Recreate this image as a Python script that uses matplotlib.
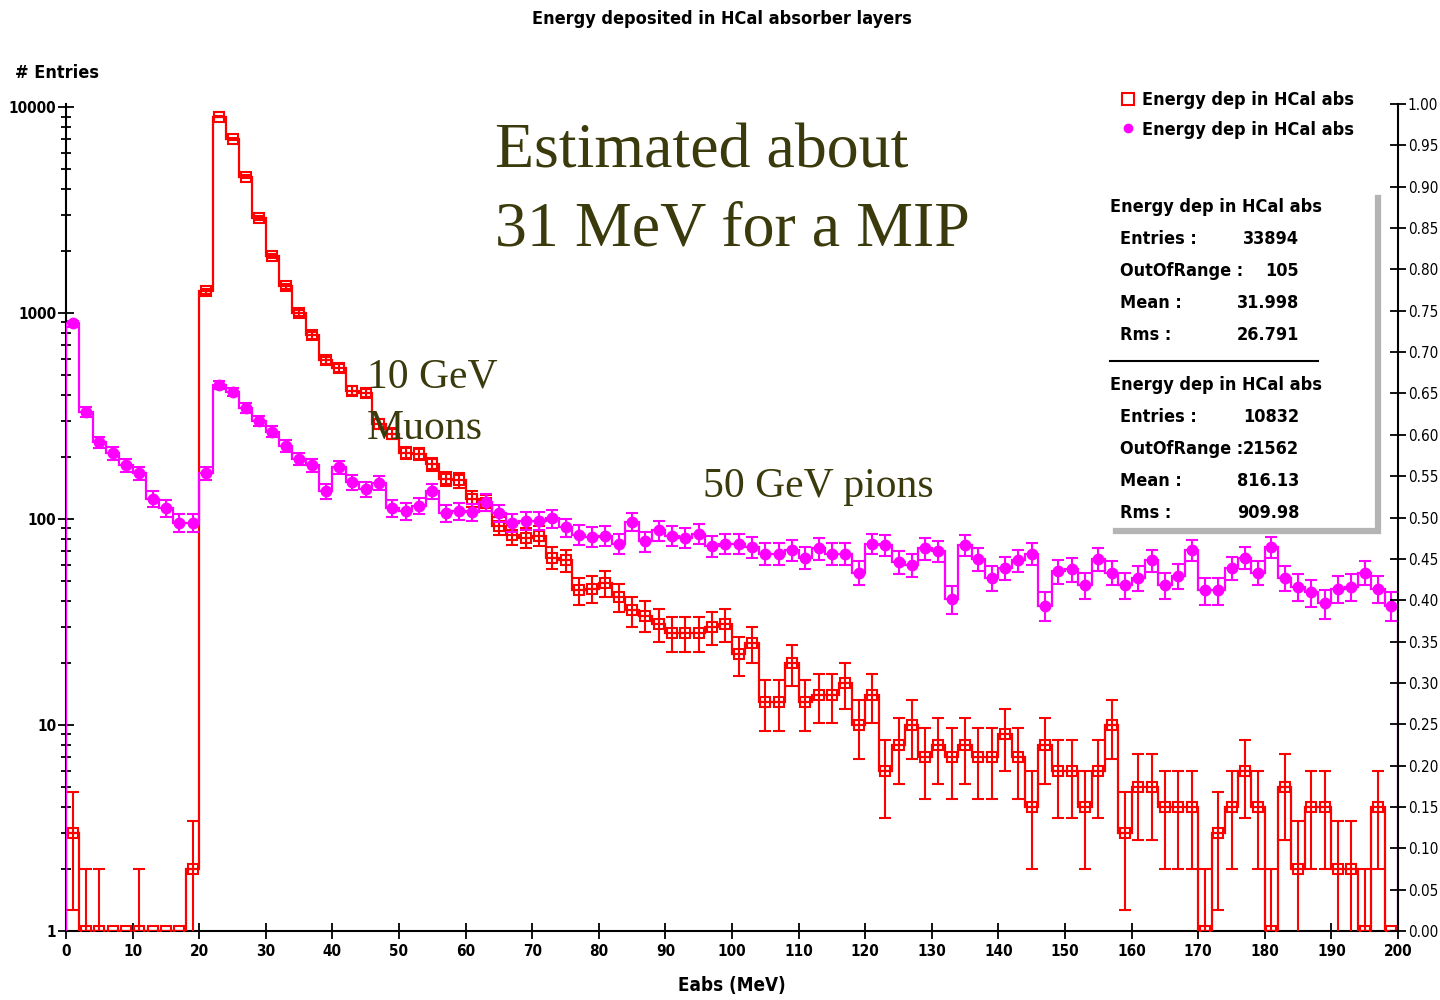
import numpy as np
import matplotlib.pyplot as plt
from matplotlib.lines import Line2D
from matplotlib.ticker import FixedLocator, NullFormatter, FuncFormatter

plt.rcParams['font.family'] = ['Liberation Sans Narrow', 'DejaVu Sans']
plt.rcParams['font.stretch'] = 'condensed'
plt.rcParams['font.weight'] = 'bold'

# 2 MeV bins from 0 to 200 MeV
edges = np.arange(0, 202, 2)
centers = edges[:-1] + 1

# 10 GeV muons
muon_counts = np.array([
    3, 1, 1, 0, 0, 1, 0, 0, 0, 2,
    1280, 9000, 7000, 4600, 2900, 1900, 1350, 1000, 780, 590,
    540, 420, 410, 290, 260, 210, 208, 185, 157, 154,
    125, 120, 93, 84, 81, 83, 65, 63, 45, 46,
    49, 42, 36, 34, 31, 28, 28, 28, 30, 31,
    22, 25, 13, 13, 20, 13, 14, 14, 16, 10,
    14, 6, 8, 10, 7, 8, 7, 8, 7, 7,
    9, 7, 4, 8, 6, 6, 4, 6, 10, 3,
    5, 5, 4, 4, 4, 1, 3, 4, 6, 4,
    1, 5, 2, 4, 4, 2, 2, 1, 4, 0])

# 50 GeV pions
pion_counts = np.array([
    890, 330, 236, 209, 183, 167, 125, 113, 96, 96,
    167, 447, 414, 346, 299, 266, 226, 196, 183, 137,
    179, 151, 140, 150, 113, 109, 116, 137, 107, 109,
    108, 121, 107, 96, 98, 98, 101, 91, 84, 82,
    83, 76, 97, 78, 88, 83, 81, 85, 74, 76,
    76, 73, 68, 68, 71, 65, 72, 68, 68, 55,
    76, 75, 62, 60, 72, 70, 41, 75, 64, 52,
    58, 63, 68, 38, 56, 57, 48, 64, 55, 48,
    52, 63, 48, 53, 71, 45, 45, 58, 65, 55,
    73, 52, 47, 44, 39, 46, 47, 55, 46, 38])

hist_name = 'Energy dep in HCal abs'
stats_rows = [
    [('Entries :', '33894'), ('OutOfRange :', '105'), ('Mean :', '31.998'), ('Rms :', '26.791')],
    [('Entries :', '10832'), ('OutOfRange :', '21562'), ('Mean :', '816.13'), ('Rms :', '909.98')],
]

RED = '#ff0000'
MAGENTA = '#ff00ff'
NOTE = '#3a3a0c'


def fx(x):
    return x / 1440


def fy(y):
    return 1 - y / 1000


def draw_hist(ax, counts, color, marker, mfc, ms, z):
    shown = np.maximum(counts, 1)
    ax.stairs(shown, edges, baseline=1, color=color, lw=1.6, zorder=z)
    err = np.sqrt(counts)
    has = counts > 0
    lo = np.minimum(err, counts - 1e-3)
    ax.errorbar(centers[has], counts[has], yerr=[lo[has], err[has]], fmt='none',
                ecolor=color, elinewidth=1.5, capsize=4, capthick=1.5, zorder=z)
    ax.plot(centers, shown, ls='none', marker=marker, ms=ms, mfc=mfc, mec=color,
            mew=1.5, zorder=z + 0.1)


fig = plt.figure(figsize=(14.4, 10), dpi=100)
ax = fig.add_axes([fx(66), fy(931), fx(1398) - fx(66), fy(104) - fy(931)])

draw_hist(ax, muon_counts, RED, 's', 'none', 7.5, 3)
draw_hist(ax, pion_counts, MAGENTA, 'o', MAGENTA, 7, 3.5)

ax.set_xlim(0, 200)
ax.set_yscale('log')
ax.set_ylim(1, 10 ** 4.015)
ax.xaxis.set_major_locator(FixedLocator(np.arange(0, 201, 10)))
ax.yaxis.set_major_locator(FixedLocator([1, 10, 100, 1000, 10000]))
ax.yaxis.set_minor_locator(FixedLocator([m * 10 ** d for d in range(4) for m in range(2, 10)]))
ax.yaxis.set_major_formatter(FuncFormatter(lambda v, p: '%d' % v))
ax.yaxis.set_minor_formatter(NullFormatter())
ax.tick_params(axis='both', which='major', direction='inout', length=12, width=1.3,
               labelsize=11, pad=1)
ax.tick_params(axis='x', pad=3)
ax.tick_params(axis='y', which='minor', direction='inout', length=7, width=1.3)
ax.tick_params(axis='x', which='minor', length=0)
for s in ('top', 'right'):
    ax.spines[s].set_visible(False)
for s in ('left', 'bottom'):
    ax.spines[s].set_linewidth(1.5)

# secondary scale on the right
ax2 = ax.twinx()
ax2.set_ylim(0, 1)
ax2.yaxis.set_major_locator(FixedLocator(np.arange(0, 1.0001, 0.05)))
ax2.yaxis.set_major_formatter(FuncFormatter(lambda v, p: '%.2f' % v))
ax2.tick_params(axis='y', direction='inout', length=12, width=1.3, labelsize=11, pad=1)
for lab in ax2.get_yticklabels():
    lab.set_fontweight('normal')
for s in ('top', 'left', 'bottom'):
    ax2.spines[s].set_visible(False)
ax2.spines['right'].set_linewidth(1.5)

fig.text(fx(722), fy(19), 'Energy deposited in HCal absorber layers', ha='center', va='center', fontsize=13)
fig.text(fx(15), fy(73), '# Entries', ha='left', va='center', fontsize=13)
fig.text(fx(732), fy(985), 'Eabs (MeV)', ha='center', va='center', fontsize=13.5)

# legend
leg_handles = [
    Line2D([], [], ls='none', marker='s', ms=8, mfc='none', mec=RED, mew=1.5),
    Line2D([], [], ls='none', marker='o', ms=6, mfc=MAGENTA, mec=MAGENTA),
]
fig.legend(leg_handles, [hist_name, hist_name], loc='upper left',
           bbox_to_anchor=(fx(1112), fy(82)), frameon=False, fontsize=13,
           handlelength=0.8, handletextpad=0.35, labelspacing=0.65, borderpad=0)

# statistics box
block_top = [207, 385]
for top, rows in zip(block_top, stats_rows):
    fig.text(fx(1110), fy(top), hist_name, ha='left', va='center', fontsize=13)
    for i, (k, v) in enumerate(rows):
        y = top + 32 * (i + 1)
        fig.text(fx(1120), fy(y), k, ha='left', va='center', fontsize=13)
        fig.text(fx(1299), fy(y), v, ha='right', va='center', fontsize=13)
fig.add_artist(Line2D([fx(1110), fx(1318)], [fy(361), fy(361)], transform=fig.transFigure,
                      color='black', lw=1.5))
fig.add_artist(Line2D([fx(1378), fx(1378), fx(1116)], [fy(198), fy(531), fy(531)],
                      transform=fig.transFigure, color='#b4b4b4', lw=4.5,
                      solid_joinstyle='miter'))

# annotations
serif = ['Liberation Serif', 'DejaVu Serif']
note_kw = dict(family=serif, fontweight='normal', fontstretch='normal', color=NOTE, va='baseline')
fig.text(fx(495), fy(168), 'Estimated about', fontsize=46, **note_kw)
fig.text(fx(495), fy(245), '31 MeV for a MIP', fontsize=46, **note_kw)
fig.text(fx(367), fy(387), '10 GeV', fontsize=30, **note_kw)
fig.text(fx(367), fy(439), 'Muons', fontsize=30, **note_kw)
fig.text(fx(703), fy(497), '50 GeV pions', fontsize=30, **note_kw)

fig.savefig('out.png', dpi=100)
